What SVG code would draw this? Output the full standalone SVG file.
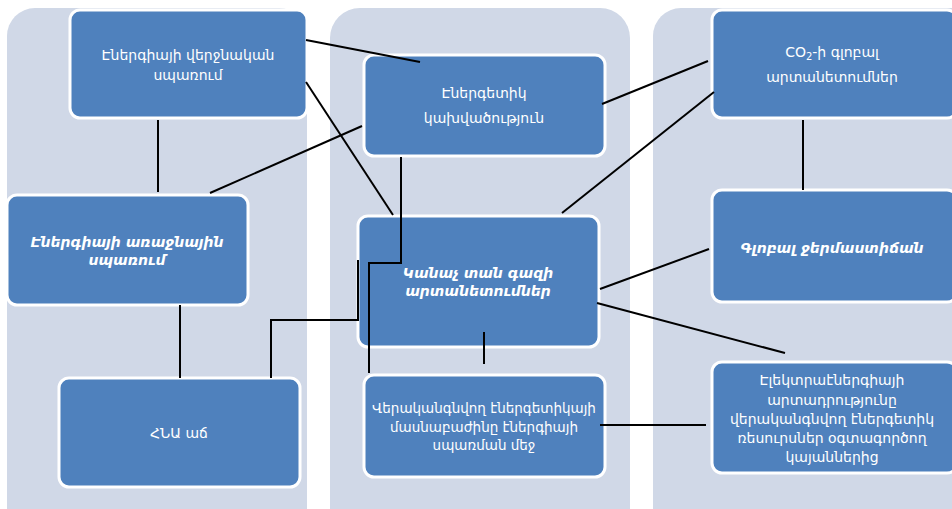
<svg xmlns="http://www.w3.org/2000/svg" width="952" height="509" viewBox="0 0 952 509">
<style>
.col{fill:#D0D8E7;}
.box{fill:#4F81BD;stroke:#FFFFFF;stroke-width:3;}
.t{fill:#FFFFFF;font-family:"DejaVu Sans","Noto Sans",sans-serif;font-size:14px;text-anchor:middle;}
.s{font-size:13.5px;}
.bi{font-weight:bold;font-style:italic;}
.c{fill:none;stroke:#000000;stroke-width:2;}
</style>
<rect width="952" height="509" fill="#FFFFFF"/>
<g id="columns">
<rect class="col" x="7" y="8" width="300" height="540" rx="28"/>
<rect class="col" x="330" y="8" width="300" height="540" rx="30"/>
<rect class="col" x="653" y="8" width="330" height="540" rx="28"/>
</g>
<g id="node-final-consumption">
<rect class="box" x="70" y="10" width="237" height="108" rx="10"/>
<text class="t" x="188" y="60">Էներգիայի վերջնական</text>
<text class="t" x="188" y="80">սպառում</text>
</g>
<g id="node-energy-dependence">
<rect class="box" x="364" y="55" width="241" height="101" rx="10"/>
<text class="t" x="484" y="98">Էներգետիկ</text>
<text class="t" x="484" y="123">կախվածություն</text>
</g>
<g id="node-co2">
<rect class="box" x="712" y="10" width="245" height="108" rx="10"/>
<text class="t" x="832" y="57">CO<tspan font-size="10" dy="3">2</tspan><tspan dy="-3">-ի գլոբալ</tspan></text>
<text class="t" x="832" y="82">արտանետումներ</text>
</g>
<g id="node-primary-consumption">
<rect class="box" x="7" y="195" width="241" height="110" rx="10"/>
<text class="t bi" x="127" y="247">Էներգիայի առաջնային</text>
<text class="t bi" x="127" y="265">սպառում</text>
</g>
<g id="node-gdp">
<rect class="box" x="59" y="378" width="241" height="109" rx="10"/>
<text class="t" x="179" y="438">ՀՆԱ աճ</text>
</g>
<g id="node-ghg">
<rect class="box" x="358" y="216" width="241" height="131" rx="10"/>
<text class="t bi" x="478" y="278">Կանաչ տան գազի</text>
<text class="t bi" x="478" y="296">արտանետումներ</text>
</g>
<g id="node-renewable-share">
<rect class="box" x="364" y="375" width="241" height="102" rx="10"/>
<text class="t s" x="484" y="413">Վերականգնվող էներգետիկայի</text>
<text class="t s" x="484" y="432">մասնաբաժինը էներգիայի</text>
<text class="t s" x="484" y="450">սպառման մեջ</text>
</g>
<g id="node-global-temperature">
<rect class="box" x="712" y="190" width="245" height="112" rx="10"/>
<text class="t bi" x="832" y="253">Գլոբալ ջերմաստիճան</text>
</g>
<g id="node-electricity">
<rect class="box" x="712" y="362" width="245" height="111" rx="10"/>
<text class="t" x="832" y="385">Էլեկտրաէներգիայի</text>
<text class="t" x="832" y="405">արտադրությունը</text>
<text class="t" x="832" y="424">վերականգնվող էներգետիկ</text>
<text class="t" x="832" y="443">ռեսուրսներ  օգտագործող</text>
<text class="t" x="832" y="462">կայաններից</text>
</g>
<g id="connectors">
<line class="c" x1="306" y1="40" x2="420" y2="62"/>
<line class="c" x1="306" y1="82" x2="393" y2="215"/>
<line class="c" x1="362" y1="126" x2="210" y2="193"/>
<line class="c" x1="158" y1="120" x2="158" y2="192"/>
<line class="c" x1="602" y1="104" x2="708" y2="61"/>
<line class="c" x1="714" y1="92" x2="562" y2="213"/>
<line class="c" x1="803" y1="120" x2="803" y2="190"/>
<polyline class="c" points="401,157 401,263 369,263 369,373"/>
<polyline class="c" points="271,378 271,320 358,320 358,260"/>
<line class="c" x1="180" y1="305" x2="180" y2="378"/>
<line class="c" x1="484" y1="332" x2="484" y2="364"/>
<line class="c" x1="600" y1="289" x2="709" y2="249"/>
<line class="c" x1="597" y1="303" x2="785" y2="353"/>
<line class="c" x1="600" y1="425" x2="706" y2="425"/>
</g>
</svg>
